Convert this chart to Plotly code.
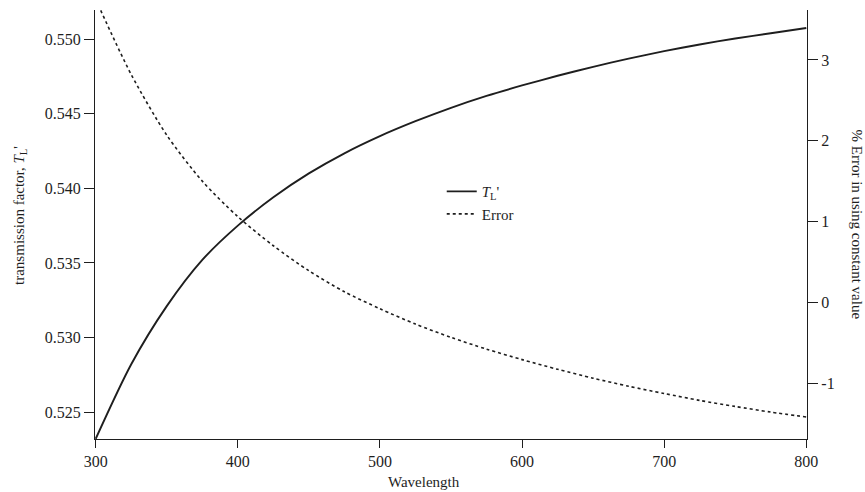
import plotly.graph_objects as go

wavelength = [300, 325, 350, 375, 400, 425, 450, 475, 500, 525, 550,
              575, 600, 625, 650, 675, 700, 725, 750, 775, 800]
transmission = [0.5232, 0.5282, 0.5321, 0.5352, 0.5375, 0.5394, 0.5410,
                0.54235, 0.5435, 0.5445, 0.5454, 0.5462, 0.5469, 0.54755,
                0.54815, 0.5487, 0.5492, 0.54965, 0.55005, 0.5504, 0.55075]
error_pct = [3.75, 2.82, 2.07, 1.50, 1.06, 0.70, 0.39, 0.13, -0.08, -0.27,
             -0.435, -0.58, -0.71, -0.83, -0.94, -1.04, -1.13, -1.215,
             -1.29, -1.36, -1.42]

x_ticks = [300, 400, 500, 600, 700, 800]
y_ticks = [0.525, 0.530, 0.535, 0.540, 0.545, 0.550]
y2_ticks = [-1, 0, 1, 2, 3]
y2_ticktext = ["-1", "0", "1", "2", "3"]

FONT = "Liberation Serif, Times New Roman, serif"
INK = "#1e1e1e"

fig = go.Figure()
fig.add_trace(go.Scatter(
    x=wavelength, y=transmission, mode="lines",
    name="<i>T</i><sub>L</sub>'",
    line=dict(color=INK, width=1.9, shape="spline", smoothing=0.8),
))
fig.add_trace(go.Scatter(
    x=wavelength, y=error_pct, mode="lines", yaxis="y2",
    name="Error",
    line=dict(color=INK, width=1.6, dash="3px,3px", shape="spline", smoothing=0.8),
))

axis_common = dict(
    showline=True, linecolor=INK, linewidth=1.2,
    ticks="outside", tickcolor=INK, tickwidth=1.2,
    showgrid=False, zeroline=False, automargin=False,
    tickfont=dict(family=FONT, size=16, color=INK),
)

fig.update_layout(
    width=865, height=492,
    margin=dict(l=95, r=58, t=10, b=53),
    paper_bgcolor="white", plot_bgcolor="white",
    font=dict(family=FONT, size=15, color=INK),
    showlegend=True,
    legend=dict(
        x=0.487, y=0.615, xanchor="left", yanchor="top",
        bgcolor="rgba(0,0,0,0)", borderwidth=0,
        font=dict(family=FONT, size=15, color=INK),
        tracegroupgap=0,
    ),
    xaxis=dict(
        range=[299.5, 800.5], tickvals=x_ticks, ticklen=8,
        **axis_common,
    ),
    yaxis=dict(
        range=[0.52319, 0.55196], tickvals=y_ticks, tickformat=".3f", ticklen=10,
        **axis_common,
    ),
    yaxis2=dict(
        range=[-1.693, 3.619], tickvals=y2_ticks, ticktext=y2_ticktext,
        overlaying="y", side="right", ticklen=10,
        **axis_common,
    ),
    annotations=[
        dict(text="% Error in using constant value",
             xref="paper", yref="paper", x=1.0716, y=0.5,
             xanchor="center", yanchor="middle", textangle=90, showarrow=False,
             font=dict(family=FONT, size=15, color=INK)),
        dict(text="transmission factor, <i>T</i><sub>L</sub>'",
             xref="paper", yref="paper", x=-0.1053, y=0.52,
             xanchor="center", yanchor="middle", textangle=-90, showarrow=False,
             font=dict(family=FONT, size=15, color=INK)),
        dict(text="Wavelength",
             xref="paper", yref="paper", x=0.462, y=-0.101,
             xanchor="center", yanchor="middle", showarrow=False,
             font=dict(family=FONT, size=15, color=INK)),
    ],
)

fig.write_html(
    "out.html",
    config={"displayModeBar": False},
    post_script="document.body.style.margin='0px';document.body.style.overflow='hidden';",
)
